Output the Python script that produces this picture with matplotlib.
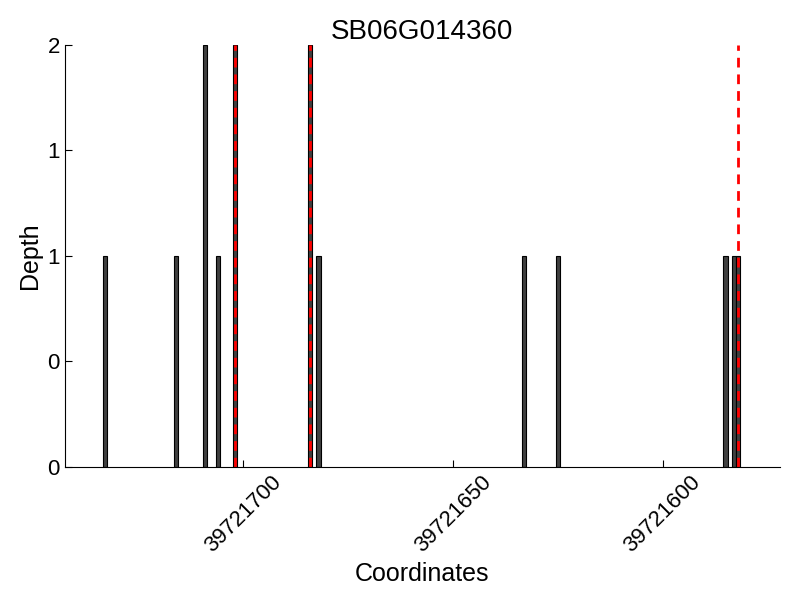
import matplotlib
matplotlib.use("Agg")
import matplotlib.pyplot as plt
from matplotlib.ticker import FormatStrFormatter

plt.rcParams['font.family'] = ['Liberation Sans', 'DejaVu Sans']

gene = "SB06G014360"
positions = [39721733, 39721716, 39721709, 39721706, 39721702, 39721684,
             39721682, 39721633, 39721625, 39721585, 39721583, 39721582]
depths = [1, 1, 2, 1, 2, 2, 1, 1, 1, 1, 1, 1]
snp_positions = [39721702, 39721684, 39721582]
xticks = [39721700, 39721650, 39721600]

fig = plt.figure(figsize=(8, 6), dpi=100)
ax = fig.add_axes([0.081, 0.222, 0.894, 0.703])

ax.bar(positions, depths, width=1.0, color="#404040", edgecolor="black",
       linewidth=0.8, align="center")
for p in snp_positions:
    ax.axvline(p, color="red", linestyle="--", linewidth=2, dashes=(3.5, 2.5))

ax.set_xlim(39721742.5, 39721572.0)
ax.set_ylim(0, 2)
ax.set_yticks([0, 0.5, 1, 1.5, 2])
ax.yaxis.set_major_formatter(FormatStrFormatter("%d"))
ax.set_xticks(xticks)
ax.xaxis.set_major_formatter(FormatStrFormatter("%d"))
ax.tick_params(direction="in", labelsize=16, length=5)
plt.setp(ax.get_xticklabels(), rotation=45, ha="center")

ax.spines["top"].set_visible(False)
ax.spines["right"].set_visible(False)

ax.set_xlabel("Coordinates", fontsize=18)
ax.set_ylabel("Depth", fontsize=18)
ax.set_title(gene, fontsize=20, pad=4)

fig.savefig("out.png", dpi=100)
